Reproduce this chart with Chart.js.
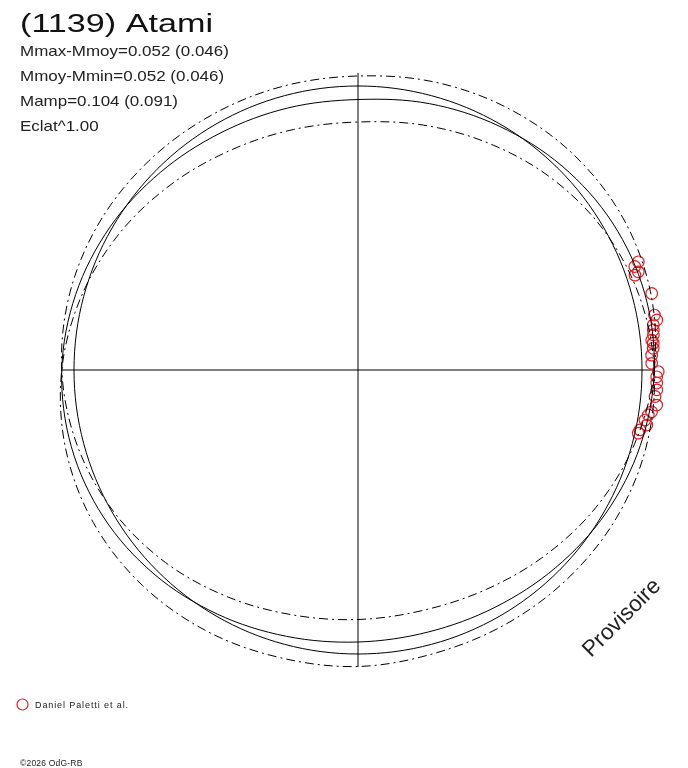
<!DOCTYPE html>
<html>
<head>
<meta charset="utf-8">
<script src="https://cdn.jsdelivr.net/npm/chart.js@4.4.1/dist/chart.umd.min.js"></script>
<style>
  html, body { margin: 0; padding: 0; background: #fff; }
  canvas { display: block; }
</style>
</head>
<body>
<canvas id="polar" width="688" height="768"></canvas>
<script>
// rotation phase in degrees, counter-clockwise from the +x axis
const PHASE_DEG = [0, 15, 30, 45, 60, 75, 90, 105, 120, 135, 150, 165,
                   180, 195, 210, 225, 240, 255, 270, 285, 300, 315, 330, 345];

// magnitude offsets from the mean (positive = brighter = further out)
const MEAN_DM   = [0, 0, 0, 0, 0, 0, 0, 0, 0, 0, 0, 0,
                   0, 0, 0, 0, 0, 0, 0, 0, 0, 0, 0, 0];
const FIT_DM    = [0.049, 0.051, 0.040, 0.018, -0.009, -0.033, -0.054, -0.051, -0.040, -0.018, 0.009, 0.033,
                   0.049, 0.051, 0.040, 0.018, -0.009, -0.033, -0.048, -0.051, -0.040, -0.018, 0.009, 0.033];
const ENV_HI_DM = [0.049, 0.075, 0.086, 0.083, 0.071, 0.056, 0.040, 0.038, 0.040, 0.047, 0.055, 0.057,
                   0.049, 0.027, -0.006, -0.047, -0.089, -0.122, -0.138, -0.140, -0.120, -0.083, -0.037, 0.009];
const ENV_LO_DM = [0.049, 0.027, -0.006, -0.047, -0.089, -0.122, -0.144, -0.140, -0.120, -0.083, -0.037, 0.009,
                   0.049, 0.075, 0.086, 0.083, 0.071, 0.056, 0.050, 0.038, 0.040, 0.047, 0.055, 0.057];

// observations (Daniel Paletti et al.)
const OBS_DEG = [21.1, 20.5, 19.3, 18.9, 14.6, 10.5, 9.5, 8.7, 7.7, 6.8, 5.8, 5.2, 4.2, 2.9, 1.3,
                 -0.3, -1.3, -2.5, -3.8, -5.1, -6.7, -8.1, -8.8, -9.9, -10.8, -12.0, -12.7];
const OBS_DM  = [0.066, 0.046, 0.052, 0.035, 0.078, 0.070, 0.076, 0.059, 0.056, 0.054, 0.045, 0.050, 0.048, 0.040, 0.039,
                 0.065, 0.059, 0.060, 0.062, 0.057, 0.067, 0.050, 0.039, 0.029, 0.040, 0.017, 0.013];

const TITLE = '(1139) Atami';
const INFO_LINES = ['Mmax-Mmoy=0.052 (0.046)', 'Mmoy-Mmin=0.052 (0.046)', 'Mamp=0.104 (0.091)', 'Eclat^1.00'];
const OBSERVER = 'Daniel Paletti et al.';
const FOOTER = '\u00a92026 OdG-RB';
const STAMP = 'Provisoire';

const R0 = 1.136;       // radius of the mean-magnitude circle
const AXIS_LEN = 1.188; // half length of the cross hairs
const RED = 'rgb(226, 30, 36)';
const INK = '#000';

function toXY(deg, dm) {
    const a = deg * Math.PI / 180;
    const r = R0 + dm;
    return { x: r * Math.cos(a), y: r * Math.sin(a) };
}
const curve = (arr) => PHASE_DEG.map((d, i) => toXY(d, arr[i]));

const lineDs = (data, dash) => ({
    data,
    showLine: true,
    closed: true,
    borderColor: INK,
    borderWidth: 1,
    borderDash: dash || [],
    tension: 0.34,
    pointRadius: 0,
    fill: false,
});

// let scatter lines wrap round like a radar outline
const closeLoops = {
    id: 'closeLoops',
    afterDatasetsUpdate(chart) {
        chart.data.datasets.forEach((ds, i) => {
            if (!ds.closed) return;
            const line = chart.getDatasetMeta(i).dataset;
            line._loop = true;
            line._fullLoop = true;
        });
    }
};

const crossHairs = {
    id: 'crossHairs',
    beforeDatasetsDraw(chart) {
        const { ctx, scales: { x, y } } = chart;
        ctx.save();
        ctx.strokeStyle = INK;
        ctx.lineWidth = 1;
        ctx.beginPath();
        ctx.moveTo(x.getPixelForValue(-AXIS_LEN), y.getPixelForValue(0));
        ctx.lineTo(x.getPixelForValue(AXIS_LEN), y.getPixelForValue(0));
        ctx.moveTo(x.getPixelForValue(0), y.getPixelForValue(AXIS_LEN));
        ctx.lineTo(x.getPixelForValue(0), y.getPixelForValue(-AXIS_LEN));
        ctx.stroke();
        ctx.restore();
    }
};

function wideText(ctx, str, x, y, font, sx, spacing) {
    ctx.save();
    ctx.font = font;
    ctx.letterSpacing = spacing || '0px';
    ctx.translate(x, y);
    ctx.scale(sx, 1);
    ctx.fillText(str, 0, 0);
    ctx.restore();
}

const labels = {
    id: 'labels',
    afterDraw(chart) {
        const ctx = chart.ctx;
        ctx.save();
        ctx.fillStyle = '#111';
        ctx.textBaseline = 'alphabetic';
        wideText(ctx, TITLE, 20, 32, '25.5px "Liberation Sans", Arial, sans-serif', 1.34);
        ctx.fillStyle = '#222';
        INFO_LINES.forEach((t, i) => {
            wideText(ctx, t, 20, 56 + i * 25, '14.5px "Liberation Sans", Arial, sans-serif', 1.17);
        });

        // legend
        ctx.strokeStyle = RED;
        ctx.lineWidth = 1.2;
        ctx.beginPath();
        ctx.arc(22.5, 704.5, 5.5, 0, Math.PI * 2);
        ctx.stroke();
        wideText(ctx, OBSERVER, 35, 708, '9px "Liberation Sans", Arial, sans-serif', 1, '0.9px');
        wideText(ctx, FOOTER, 20, 766, '8.5px "Liberation Sans", Arial, sans-serif', 1, '0.2px');

        // stamp
        ctx.save();
        ctx.translate(591, 658);
        ctx.rotate(-Math.PI / 4);
        ctx.font = '22.5px "Liberation Sans", Arial, sans-serif';
        ctx.fillText(STAMP, 0, 0);
        ctx.restore();
        ctx.restore();
    }
};

new Chart(document.getElementById('polar'), {
    type: 'scatter',
    data: {
        datasets: [
            lineDs(curve(MEAN_DM)),
            lineDs(curve(FIT_DM)),
            lineDs(curve(ENV_HI_DM), [9, 4, 2, 4]),
            lineDs(curve(ENV_LO_DM), [9, 4, 2, 4]),
            {
                data: OBS_DEG.map((d, i) => toXY(d, OBS_DM[i])),
                showLine: false,
                pointStyle: 'circle',
                pointRadius: 5.8,
                pointBorderWidth: 1.2,
                pointBorderColor: RED,
                pointBackgroundColor: 'rgba(0,0,0,0)',
            },
        ],
    },
    options: {
        responsive: false,
        animation: false,
        layout: { padding: 0, autoPadding: false },
        plugins: { legend: { display: false }, tooltip: { enabled: false } },
        scales: {
            x: { type: 'linear', display: false, bounds: 'data', min: -1.432, max: 1.32 },
            y: { type: 'linear', display: false, bounds: 'data', min: -1.592, max: 1.48 },
        },
    },
    plugins: [closeLoops, crossHairs, labels],
});
</script>
</body>
</html>
